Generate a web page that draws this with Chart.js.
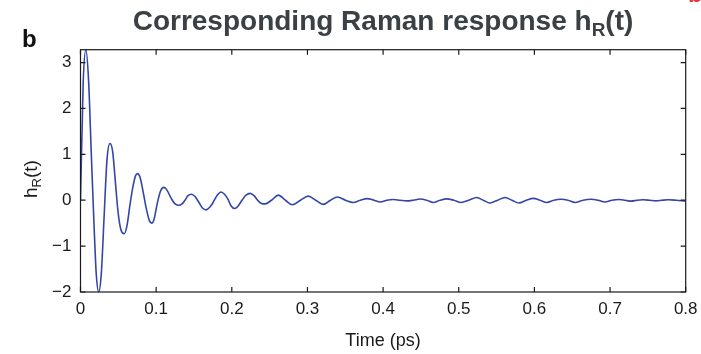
<!DOCTYPE html>
<html>
<head>
<meta charset="utf-8">
<script src="https://cdn.jsdelivr.net/npm/chart.js@4/dist/chart.umd.min.js"></script>
<style>
  html, body { margin: 0; padding: 0; background: #ffffff; }
  #wrap { width: 701px; height: 354px; }
</style>
</head>
<body>
<div id="wrap"><canvas id="c" width="701" height="354"></canvas></div>
<script>
// Raman response h_R(t) versus time (ps)
const timePs = [
  0, 0.0036, 0.0071, 0.0107, 0.0143, 0.0178, 0.0208, 0.0241, 0.0275, 0.0311,
  0.0350, 0.0390, 0.0426, 0.0461, 0.0496, 0.0535, 0.0579, 0.0615, 0.0654, 0.0694,
  0.0727, 0.0754, 0.0787, 0.0826, 0.0872, 0.0912, 0.0941, 0.0972, 0.1011, 0.1058,
  0.1104, 0.1143, 0.1196, 0.1243, 0.1293, 0.1342, 0.1381, 0.1421, 0.1467, 0.1514,
  0.1566, 0.1613, 0.1659, 0.1705, 0.1752, 0.1804, 0.1857, 0.1904, 0.1950, 0.1989,
  0.2036, 0.2082, 0.2135, 0.2188, 0.2241, 0.2294, 0.2346, 0.2393, 0.2439,
  0.2525, 0.2615, 0.2709, 0.2802, 0.2907, 0.3011, 0.3110, 0.3209, 0.3303, 0.3397,
  0.3502, 0.3606, 0.3698, 0.3791, 0.3878, 0.3966, 0.4050, 0.4135, 0.4223, 0.4312,
  0.4399, 0.4488, 0.4576, 0.4664, 0.4752, 0.4841, 0.4935, 0.5030, 0.5133, 0.5237,
  0.5325, 0.5413, 0.5513, 0.5612, 0.5704, 0.5797, 0.5892, 0.5985, 0.6074, 0.6163,
  0.6256, 0.6352, 0.6444, 0.6537, 0.6643, 0.6748, 0.6841, 0.6933, 0.7026, 0.7118,
  0.7198, 0.7277, 0.7356, 0.7436, 0.7521, 0.7607, 0.7687, 0.7766, 0.7872, 0.8
];
const ramanResponse = [
  0, 2.58, 3.28, 2.6, 1.0, -0.5, -1.6, -2.0, -1.6, -0.4,
  0.88, 1.235, 1.05, 0.4, -0.25, -0.65, -0.73, -0.55, -0.1, 0.3,
  0.53, 0.58, 0.5, 0.2, -0.2, -0.45, -0.5, -0.42, -0.1, 0.2,
  0.28, 0.22, 0.05, -0.07, -0.11, -0.08, 0, 0.1, 0.13, 0.08,
  -0.05, -0.17, -0.21, -0.16, -0.05, 0.1, 0.18, 0.13, 0.02, -0.12,
  -0.18, -0.13, 0.0, 0.11, 0.15, 0.1, -0.01, -0.07, -0.08,
  0, 0.11, 0, -0.10, 0, 0.09, 0, -0.09, 0, 0.07,
  0, -0.05, 0, 0.035, 0, -0.04, 0, 0.015, 0, -0.015,
  0, 0.025, 0, -0.05, 0, 0.03, 0, -0.05, 0, 0.06,
  0, -0.06, 0, 0.06, 0, -0.06, 0, 0.04, 0, -0.05,
  0, 0.02, 0, -0.05, 0, 0.02, 0, -0.04, 0, 0.015,
  0, -0.02, 0, 0.01, 0, -0.015, 0, 0.01, 0, -0.02
];
const xTickValues = [0, 0.1, 0.2, 0.3, 0.4, 0.5, 0.6, 0.7, 0.8];
const xTickLabels = ['0', '0.1', '0.2', '0.3', '0.4', '0.5', '0.6', '0.7', '0.8'];
const yTickValues = [-2, -1, 0, 1, 2, 3];
const yTickLabels = ['\u22122', '\u22121', '0', '1', '2', '3'];

const FONT = '"Liberation Sans", Arial, Helvetica, sans-serif';
const AREA = { left: 80.5, right: 685.7, top: 49.7, bottom: 292 };

// Frame, inward ticks, titles and panel letters
const decorations = {
  id: 'decorations',
  afterDraw(chart) {
    const { ctx, chartArea: a, scales: { x, y } } = chart;
    ctx.save();
    ctx.strokeStyle = '#1a1a1a';
    ctx.lineWidth = 1.2;
    ctx.beginPath();
    xTickValues.forEach(v => {
      const px = x.getPixelForValue(v);
      ctx.moveTo(px, a.bottom); ctx.lineTo(px, a.bottom - 5);
      ctx.moveTo(px, a.top); ctx.lineTo(px, a.top + 5);
    });
    yTickValues.forEach(v => {
      const py = y.getPixelForValue(v);
      ctx.moveTo(a.left, py); ctx.lineTo(a.left + 5, py);
      ctx.moveTo(a.right, py); ctx.lineTo(a.right - 5, py);
    });
    ctx.stroke();
    ctx.strokeRect(a.left, a.top, a.right - a.left, a.bottom - a.top);

    // main title with subscript
    const big = 'bold 28px ' + FONT, sub = 'bold 19px ' + FONT;
    const p1 = 'Corresponding Raman response h', p2 = 'R', p3 = '(t)';
    ctx.font = big; const w1 = ctx.measureText(p1).width, w3 = ctx.measureText(p3).width;
    ctx.font = sub; const w2 = ctx.measureText(p2).width;
    let tx = 383 - (w1 + w2 + w3) / 2;
    const ty = 30;
    ctx.fillStyle = '#3b4045';
    ctx.textBaseline = 'alphabetic';
    ctx.textAlign = 'left';
    ctx.font = big; ctx.fillText(p1, tx, ty); tx += w1;
    ctx.font = sub; ctx.fillText(p2, tx, ty + 6); tx += w2;
    ctx.font = big; ctx.fillText(p3, tx, ty);

    // panel letters
    ctx.fillStyle = '#111111';
    ctx.font = 'bold 24px ' + FONT;
    ctx.fillText('b', 22, 47);
    ctx.fillStyle = '#e8333c';
    ctx.fillText('b.', 688, 2);

    // x axis title
    ctx.fillStyle = '#1a1a1a';
    ctx.font = '18px ' + FONT;
    ctx.textAlign = 'center';
    ctx.fillText('Time (ps)', 383, 346);

    // y axis title, rotated, with subscript
    ctx.save();
    ctx.translate(37, 179);
    ctx.rotate(-Math.PI / 2);
    const yf = '19px ' + FONT, ys = '13px ' + FONT;
    ctx.font = yf; const a1 = ctx.measureText('h').width, a3 = ctx.measureText('(t)').width;
    ctx.font = ys; const a2 = ctx.measureText('R').width;
    let yx = -(a1 + a2 + a3) / 2;
    ctx.textAlign = 'left';
    ctx.font = yf; ctx.fillText('h', yx, 0); yx += a1;
    ctx.font = ys; ctx.fillText('R', yx, 4); yx += a2;
    ctx.font = yf; ctx.fillText('(t)', yx, 0);
    ctx.restore();

    ctx.restore();
  }
};

new Chart(document.getElementById('c'), {
  type: 'line',
  data: {
    datasets: [{
      data: timePs.map((t, i) => ({ x: t, y: ramanResponse[i] })),
      borderColor: '#3346a6',
      borderWidth: 1.6,
      pointRadius: 0,
      fill: false,
      cubicInterpolationMode: 'monotone'
    }]
  },
  options: {
    responsive: false,
    devicePixelRatio: 1,
    animation: false,
    layout: { padding: { left: 0, top: AREA.top, right: 701 - AREA.right, bottom: 0 } },
    plugins: { legend: { display: false }, tooltip: { enabled: false }, title: { display: false } },
    scales: {
      x: {
        type: 'linear', min: 0, max: 0.8,
        grid: { display: false, drawTicks: false },
        border: { display: false },
        afterBuildTicks: s => { s.ticks = xTickValues.map(v => ({ value: v })); },
        afterFit: s => { s.height = 354 - AREA.bottom; s.paddingLeft = 0; s.paddingRight = 0; },
        ticks: {
          color: '#1a1a1a', padding: 7, maxRotation: 0, autoSkip: false,
          font: { family: FONT, size: 17 },
          callback: (v, i) => xTickLabels[i]
        }
      },
      y: {
        type: 'linear', min: -2, max: 3.28,
        grid: { display: false, drawTicks: false },
        border: { display: false },
        afterBuildTicks: s => { s.ticks = yTickValues.map(v => ({ value: v })); },
        afterFit: s => { s.width = AREA.left; s.paddingTop = 0; s.paddingBottom = 0; },
        ticks: {
          color: '#1a1a1a', padding: 9, autoSkip: false,
          font: { family: FONT, size: 17 },
          callback: (v, i) => yTickLabels[i]
        }
      }
    }
  },
  plugins: [decorations]
});
</script>
</body>
</html>
